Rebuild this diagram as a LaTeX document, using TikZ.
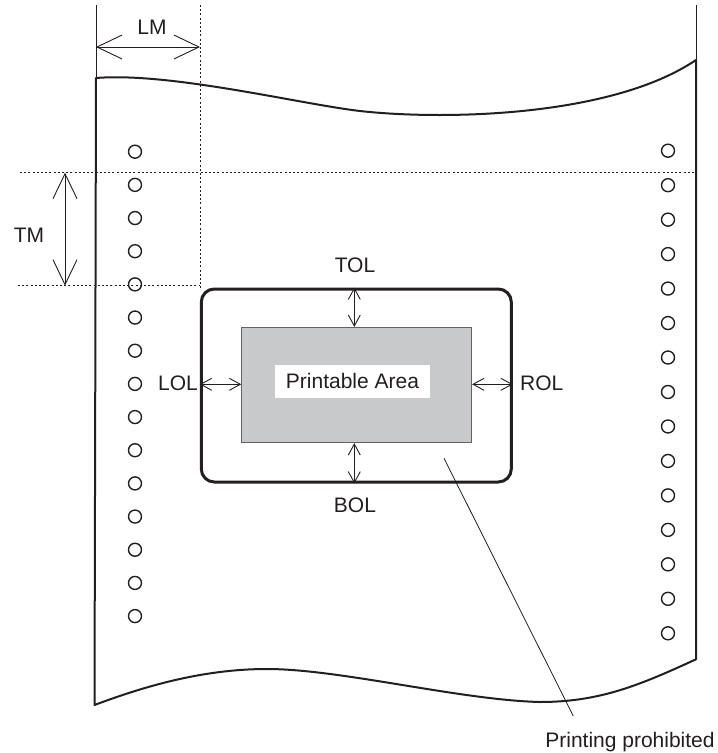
\documentclass[tikz,border=0pt]{standalone}
\usepackage{fontspec}
\setmainfont{Liberation Sans}
\usetikzlibrary{arrows.meta}
\definecolor{ink}{HTML}{231F20}
\definecolor{areagray}{HTML}{C8C9CB}
\begin{document}
\begin{tikzpicture}[x=1pt,y=-1pt,
  lbl/.style={font=\fontsize{21}{25}\selectfont, text=ink, inner sep=0pt},
  dotline/.style={ink, line width=0.9pt, dash pattern=on 2pt off 2.2pt},
  bigdim/.style={ink, line width=0.9pt, {Straight Barb[length=25pt,width=24pt]}-{Straight Barb[length=25pt,width=24pt]}},
  smalldim/.style={ink, line width=0.9pt, {Straight Barb[length=11pt,width=12pt]}-{Straight Barb[length=11pt,width=12pt]}},
  hole/.style={circle, draw=ink, line width=1.4pt, minimum size=13pt, inner sep=0pt},
  sheet/.style={ink, line width=2pt, line join=round}]
\useasboundingbox (0,0) rectangle (718,753);
% previous sheet edges above
\draw[ink, line width=1pt] (96,5) -- (96,78);
\draw[ink, line width=1pt] (696,5) -- (696,60);
% sheet outline
\draw[sheet] (96,78) .. controls (170,72) and (300,104) .. (360,111)
  .. controls (440,120) and (610,118) .. (696,60)
  -- (696,659.3)
  .. controls (640,685) and (600,702) .. (540,702)
  .. controls (460,700) and (340,669) .. (267,669)
  .. controls (200,669) and (140,688) .. (94.5,705)
  -- cycle;
% dotted guides
\coordinate (lmtop) at (200,5);
\coordinate (lmbot) at (200,290);
\draw[dotline] (lmtop) -- (lmbot);
\coordinate (tmL) at (20,172.7);
\coordinate (tmR) at (696,172.7);
\draw[dotline] (tmL) -- (tmR);
\coordinate (bmL) at (18,285.7);
\coordinate (bmR) at (200,285.7);
\draw[dotline] (bmL) -- (bmR);
% LM
\coordinate (lma) at (96,47);
\coordinate (lmb) at (200,47);
\draw[bigdim] (lma) -- (lmb);
\node[lbl] (LM) at (152,27) {LM};
% TM
\coordinate (tma) at (65,172.7);
\coordinate (tmb) at (65,285.7);
\draw[bigdim] (tma) -- (tmb);
\node[lbl] (TM) at (29,235) {TM};
% holes
\foreach \i in {0,...,14} {
  \node[hole] (hl\i) at (135,151.7+33.17*\i) {};
  \node[hole] (hr\i) at (668,150.7+34.47*\i) {};
}
% areas
\node[draw=ink, line width=3pt, rounded corners=13pt, minimum width=310pt, minimum height=193pt, inner sep=0pt] (outer) at (356.3,385.5) {};
\node[fill=areagray, draw=ink!70, line width=0.8pt, minimum width=230pt, minimum height=115.4pt, inner sep=0pt] (inner) at (356.7,385) {};
\node[fill=white, minimum width=155pt, minimum height=32.7pt, inner sep=0pt] (pabox) at (352.5,381.3) {};
\node[lbl] (PA) at (pabox.center) {Printable Area};
% offsets
\draw[smalldim] (outer.north -| 354.3,0) -- (inner.north -| 354.3,0);
\draw[smalldim] (inner.south -| 354.3,0) -- (outer.south -| 354.3,0);
\draw[smalldim] (outer.west |- 0,384.3) -- (inner.west |- 0,384.3);
\draw[smalldim] (inner.east |- 0,384.3) -- (outer.east |- 0,384.3);
\node[lbl] (TOL) at (355,265) {TOL};
\node[lbl] (BOL) at (355,505) {BOL};
\node[lbl] (LOL) at (178,383) {LOL};
\node[lbl] (ROL) at (541.7,383) {ROL};
% leader
\node[lbl] (PP) at (630,741.7) {Printing prohibited};
\coordinate (lead) at (444,458.3);
\coordinate (leadend) at (573.3,716);
\draw[ink, line width=0.8pt] (lead) -- (leadend);
\end{tikzpicture}
\end{document}
